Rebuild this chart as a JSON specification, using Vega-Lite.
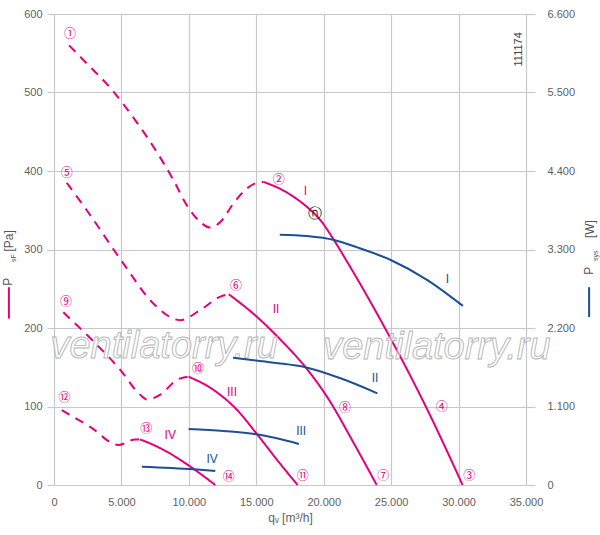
{
  "$schema": "https://vega.github.io/schema/vega-lite/v6.json",
  "description": "Fan curves: static pressure and system power vs. air flow",
  "width": 472,
  "height": 471,
  "autosize": {"type": "none"},
  "padding": {"left": 54, "top": 14, "right": 74, "bottom": 50},
  "background": "white",
  "config": {
    "view": {"stroke": null},
    "font": "Liberation Sans",
    "axis": {
      "labelFont": "Liberation Sans",
      "labelFontSize": 11,
      "labelColor": "#5f5f5f",
      "titleFont": "Liberation Sans",
      "titleFontWeight": "normal",
      "titleColor": "#5f5f5f",
      "titleFontSize": 11,
      "gridColor": "#c8c8c8",
      "gridWidth": 1.2,
      "tickColor": "#c8c8c8",
      "tickWidth": 1.2,
      "domain": false
    }
  },
  "datasets": {
    "pressure": [
      {"c": "I", "s": "dash", "x": 1115, "y": 560},
      {"c": "I", "s": "dash", "x": 2430, "y": 537},
      {"c": "I", "s": "dash", "x": 4160, "y": 506},
      {"c": "I", "s": "dash", "x": 6140, "y": 462},
      {"c": "I", "s": "dash", "x": 7630, "y": 424},
      {"c": "I", "s": "dash", "x": 8870, "y": 388},
      {"c": "I", "s": "dash", "x": 9860, "y": 356},
      {"c": "I", "s": "dash", "x": 10850, "y": 335},
      {"c": "I", "s": "dash", "x": 11590, "y": 328},
      {"c": "I", "s": "dash", "x": 12340, "y": 335},
      {"c": "I", "s": "dash", "x": 13320, "y": 359},
      {"c": "I", "s": "dash", "x": 14320, "y": 378},
      {"c": "I", "s": "dash", "x": 15060, "y": 385},
      {"c": "I", "s": "dash", "x": 15550, "y": 386},
      {"c": "I", "s": "solid", "x": 15550, "y": 386},
      {"c": "I", "s": "solid", "x": 16800, "y": 377},
      {"c": "I", "s": "solid", "x": 17780, "y": 367},
      {"c": "I", "s": "solid", "x": 18770, "y": 354},
      {"c": "I", "s": "solid", "x": 19770, "y": 337},
      {"c": "I", "s": "solid", "x": 20760, "y": 312},
      {"c": "I", "s": "solid", "x": 21750, "y": 284},
      {"c": "I", "s": "solid", "x": 24220, "y": 210},
      {"c": "I", "s": "solid", "x": 27570, "y": 100},
      {"c": "I", "s": "solid", "x": 30300, "y": 0},
      {"c": "II", "s": "dash", "x": 940, "y": 385},
      {"c": "II", "s": "dash", "x": 2430, "y": 350},
      {"c": "II", "s": "dash", "x": 5150, "y": 282},
      {"c": "II", "s": "dash", "x": 7380, "y": 231},
      {"c": "II", "s": "dash", "x": 9360, "y": 210},
      {"c": "II", "s": "dash", "x": 10850, "y": 223},
      {"c": "II", "s": "dash", "x": 12340, "y": 240},
      {"c": "II", "s": "dash", "x": 12960, "y": 243},
      {"c": "II", "s": "solid", "x": 12960, "y": 243},
      {"c": "II", "s": "solid", "x": 15060, "y": 214},
      {"c": "II", "s": "solid", "x": 16800, "y": 185},
      {"c": "II", "s": "solid", "x": 18650, "y": 150},
      {"c": "II", "s": "solid", "x": 20260, "y": 112},
      {"c": "II", "s": "solid", "x": 22240, "y": 53},
      {"c": "II", "s": "solid", "x": 23930, "y": 0},
      {"c": "III", "s": "dash", "x": 690, "y": 220},
      {"c": "III", "s": "dash", "x": 2920, "y": 183},
      {"c": "III", "s": "dash", "x": 4900, "y": 147},
      {"c": "III", "s": "dash", "x": 6390, "y": 115},
      {"c": "III", "s": "dash", "x": 6890, "y": 109},
      {"c": "III", "s": "dash", "x": 7880, "y": 115},
      {"c": "III", "s": "dash", "x": 9120, "y": 134},
      {"c": "III", "s": "dash", "x": 9980, "y": 138},
      {"c": "III", "s": "solid", "x": 9980, "y": 138},
      {"c": "III", "s": "solid", "x": 11840, "y": 121},
      {"c": "III", "s": "solid", "x": 13580, "y": 95.5},
      {"c": "III", "s": "solid", "x": 15060, "y": 64.6},
      {"c": "III", "s": "solid", "x": 16550, "y": 31.8},
      {"c": "III", "s": "solid", "x": 18060, "y": 0},
      {"c": "IV", "s": "dash", "x": 570, "y": 95.5},
      {"c": "IV", "s": "dash", "x": 2680, "y": 74},
      {"c": "IV", "s": "dash", "x": 4780, "y": 51},
      {"c": "IV", "s": "dash", "x": 6020, "y": 58},
      {"c": "IV", "s": "dash", "x": 6390, "y": 58},
      {"c": "IV", "s": "solid", "x": 6390, "y": 58},
      {"c": "IV", "s": "solid", "x": 7380, "y": 51},
      {"c": "IV", "s": "solid", "x": 8370, "y": 42.4},
      {"c": "IV", "s": "solid", "x": 10110, "y": 23.4},
      {"c": "IV", "s": "solid", "x": 11960, "y": 0}
    ],
    "power": [
      {"c": "I", "x": 16740, "w": 3508},
      {"c": "I", "x": 18770, "w": 3488},
      {"c": "I", "x": 20760, "w": 3433},
      {"c": "I", "x": 22490, "w": 3330},
      {"c": "I", "x": 24970, "w": 3153},
      {"c": "I", "x": 27690, "w": 2872},
      {"c": "I", "x": 30320, "w": 2510},
      {"c": "II", "x": 13280, "w": 1784},
      {"c": "II", "x": 16300, "w": 1714},
      {"c": "II", "x": 18650, "w": 1650},
      {"c": "II", "x": 21250, "w": 1495},
      {"c": "II", "x": 23980, "w": 1285},
      {"c": "III", "x": 9980, "w": 784},
      {"c": "III", "x": 12580, "w": 757},
      {"c": "III", "x": 15060, "w": 710},
      {"c": "III", "x": 18160, "w": 575},
      {"c": "IV", "x": 6510, "w": 257},
      {"c": "IV", "x": 10350, "w": 220},
      {"c": "IV", "x": 11960, "w": 196}
    ],
    "points": [
      {"x": 1190, "y": 575, "t": "①"},
      {"x": 16660, "y": 388, "t": "②"},
      {"x": 30790, "y": 12, "t": "③"},
      {"x": 28760, "y": 100, "t": "④"},
      {"x": 940, "y": 397, "t": "⑤"},
      {"x": 13500, "y": 254, "t": "⑥"},
      {"x": 24420, "y": 12, "t": "⑦"},
      {"x": 21580, "y": 98.5, "t": "⑧"},
      {"x": 890, "y": 232.7, "t": "⑨"},
      {"x": 10680, "y": 147.8, "t": "⑩"},
      {"x": 18450, "y": 12, "t": "⑪"},
      {"x": 770, "y": 110.4, "t": "⑫"},
      {"x": 6840, "y": 71, "t": "⑬"},
      {"x": 12950, "y": 10.6, "t": "⑭"}
    ],
    "npoint": [
      {"x": 19320, "y": 345, "t": "ⓝ"}
    ],
    "roman": [
      {"x": 18650, "y": 375, "t": "I", "k": "p"},
      {"x": 16470, "y": 224, "t": "II", "k": "p"},
      {"x": 13200, "y": 119, "t": "III", "k": "p"},
      {"x": 8620, "y": 63.7, "t": "IV", "k": "p"},
      {"x": 29180, "y": 262.4, "t": "I", "k": "b"},
      {"x": 23800, "y": 136.7, "t": "II", "k": "b"},
      {"x": 18330, "y": 68.8, "t": "III", "k": "b"},
      {"x": 11720, "y": 32.7, "t": "IV", "k": "b"}
    ],
    "titles": [
      {"x": -3396, "y": 259, "t": "P"},
      {"x": -3330, "y": 311, "t": "[Pa]"},
      {"x": 39645, "y": 273, "t": "P"},
      {"x": 39760, "y": 326, "t": "[W]"}
    ],
    "subs": [
      {"x": -2950, "y": 289, "t": "sF"},
      {"x": 40200, "y": 292, "t": "sys"}
    ],
    "keys": [
      {"x": -3344, "y": 252, "y2": 212, "k": "p"},
      {"x": 39680, "y": 252, "y2": 214, "k": "b"}
    ],
    "marks": [
      {"x": 8170, "y": 176, "t": "ventilatorry.ru"},
      {"x": 28390, "y": 175, "t": "ventilatorry.ru"}
    ],
    "code": [
      {"x": 34480, "y": 555, "t": "111174"}
    ]
  },
  "layer": [
    {
      "layer": [
        {
          "data": {"name": "pressure"},
          "mark": {"type": "line", "strokeWidth": 2, "color": "#e4007c", "interpolate": "monotone"},
          "encoding": {
            "x": {
              "field": "x",
              "type": "quantitative",
              "scale": {"domain": [0, 35000], "nice": false, "zero": false},
              "axis": {
                "orient": "bottom",
                "values": [0, 2500, 5000, 7500, 10000, 12500, 15000, 17500, 20000, 22500, 25000, 27500, 30000, 32500, 35000],
                "ticks": false,
                "labelPadding": 11,
                "labelFlush": false,
                "labelOverlap": false,
                "labelExpr": "datum.value % 5000 === 0 ? replace(format(datum.value, ','), ',', '.') : ''",
                "title": "qᵥ [m³/h]",
                "titlePadding": 5,
                "titleFontSize": 12
              }
            },
            "y": {
              "field": "y",
              "type": "quantitative",
              "scale": {"domain": [0, 600], "nice": false, "zero": false},
              "axis": {
                "orient": "left",
                "values": [0, 50, 100, 150, 200, 250, 300, 350, 400, 450, 500, 550, 600],
                "tickSize": 7,
                "tickOpacity": {"condition": {"test": "datum.value % 100 !== 0", "value": 0}, "value": 1},
                "labelPadding": 5,
                "labelOverlap": false,
                "labelExpr": "datum.value % 100 === 0 ? datum.label : ''",
                "title": null
              }
            },
            "detail": {"field": "c"},
            "strokeDash": {
              "field": "s",
              "type": "nominal",
              "scale": {"domain": ["dash", "solid"], "range": [[9, 7], [1, 0]]},
              "legend": null
            }
          }
        },
        {
          "data": {"name": "marks"},
          "mark": {
            "type": "text",
            "font": "Liberation Sans",
            "fontSize": 38,
            "fontStyle": "italic",
            "fill": "#ffffff",
            "fillOpacity": 0.55,
            "stroke": "#b4b4b4",
            "strokeWidth": 0.9,
            "align": "center",
            "baseline": "middle"
          },
          "encoding": {
            "x": {"field": "x", "type": "quantitative"},
            "y": {"field": "y", "type": "quantitative"},
            "text": {"field": "t"}
          }
        },
        {
          "data": {"name": "points"},
          "mark": {"type": "text", "font": "Noto Sans CJK JP", "fontSize": 12, "align": "center", "baseline": "middle", "color": "#e4007c"},
          "encoding": {
            "x": {"field": "x", "type": "quantitative"},
            "y": {"field": "y", "type": "quantitative"},
            "text": {"field": "t"}
          }
        },
        {
          "data": {"name": "npoint"},
          "mark": {"type": "text", "font": "DejaVu Sans", "fontSize": 14, "align": "center", "baseline": "middle", "color": "#222222"},
          "encoding": {
            "x": {"field": "x", "type": "quantitative"},
            "y": {"field": "y", "type": "quantitative"},
            "text": {"field": "t"}
          }
        },
        {
          "data": {"name": "roman"},
          "mark": {"type": "text", "font": "Liberation Sans", "fontSize": 12, "align": "center", "baseline": "middle"},
          "encoding": {
            "x": {"field": "x", "type": "quantitative"},
            "y": {"field": "y", "type": "quantitative"},
            "text": {"field": "t"},
            "color": {
              "field": "k",
              "type": "nominal",
              "scale": {"domain": ["p", "b"], "range": ["#e4007c", "#1d4f94"]},
              "legend": null
            }
          }
        },
        {
          "data": {"name": "titles"},
          "mark": {"type": "text", "font": "Liberation Sans", "fontSize": 12, "angle": 270, "align": "center", "baseline": "middle", "color": "#555555"},
          "encoding": {
            "x": {"field": "x", "type": "quantitative"},
            "y": {"field": "y", "type": "quantitative"},
            "text": {"field": "t"}
          }
        },
        {
          "data": {"name": "subs"},
          "mark": {"type": "text", "font": "Liberation Sans", "fontSize": 7, "angle": 270, "align": "center", "baseline": "middle", "color": "#555555"},
          "encoding": {
            "x": {"field": "x", "type": "quantitative"},
            "y": {"field": "y", "type": "quantitative"},
            "text": {"field": "t"}
          }
        },
        {
          "data": {"name": "keys"},
          "mark": {"type": "rule", "strokeWidth": 2},
          "encoding": {
            "x": {"field": "x", "type": "quantitative"},
            "y": {"field": "y", "type": "quantitative"},
            "y2": {"field": "y2"},
            "color": {
              "field": "k",
              "type": "nominal",
              "scale": {"domain": ["p", "b"], "range": ["#e4007c", "#1d4f94"]},
              "legend": null
            }
          }
        },
        {
          "data": {"name": "code"},
          "mark": {"type": "text", "font": "Liberation Sans", "fontSize": 11, "angle": 270, "align": "center", "baseline": "middle", "color": "#444444"},
          "encoding": {
            "x": {"field": "x", "type": "quantitative"},
            "y": {"field": "y", "type": "quantitative"},
            "text": {"field": "t"}
          }
        }
      ]
    },
    {
      "data": {"name": "power"},
      "mark": {"type": "line", "strokeWidth": 2, "color": "#1d4f94", "interpolate": "monotone"},
      "encoding": {
        "x": {"field": "x", "type": "quantitative"},
        "y": {
          "field": "w",
          "type": "quantitative",
          "scale": {"domain": [0, 6600], "nice": false, "zero": false},
          "axis": {
            "orient": "right",
            "values": [0, 550, 1100, 1650, 2200, 2750, 3300, 3850, 4400, 4950, 5500, 6050, 6600],
            "grid": false,
            "tickSize": 9,
            "tickOpacity": {"condition": {"test": "datum.value % 1100 !== 0", "value": 0}, "value": 1},
            "labelPadding": 12,
            "labelOverlap": false,
            "labelExpr": "datum.value % 1100 === 0 ? replace(format(datum.value, ','), ',', '.') : ''",
            "title": null
          }
        },
        "detail": {"field": "c"}
      }
    }
  ],
  "resolve": {"scale": {"y": "independent"}, "axis": {"y": "independent"}}
}
